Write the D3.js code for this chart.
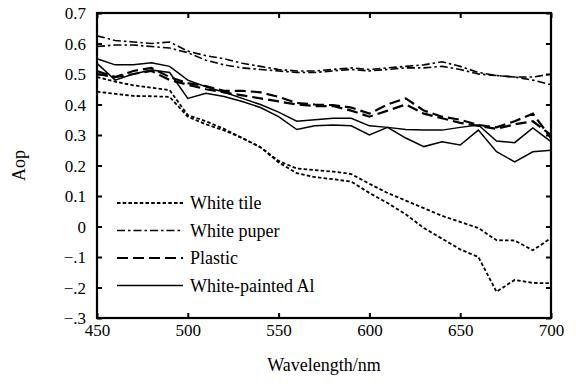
<!DOCTYPE html>
<html lang="en">
<head>
<meta charset="UTF-8">
<title>Aop vs wavelength</title>
<style>
  body { margin: 0; background: #fff; }
  svg text { font-family: "Liberation Serif", "Times New Roman", serif; fill: #000; }
</style>
</head>
<body>
<script src="https://d3js.org/d3.v7.min.js"></script>
<svg id="chart"></svg>
<script>
// wavelengths (nm)
var wavelengths = d3.range(450, 701, 10);

// two samples per material
var tileA  = [0.49, 0.475, 0.463, 0.455, 0.447, 0.365, 0.345, 0.32, 0.29, 0.26, 0.215, 0.19, 0.185, 0.18, 0.172, 0.14, 0.11, 0.085, 0.06, 0.035, 0.015, -0.005, -0.045, -0.046, -0.078, -0.038];
var tileB  = [0.442, 0.435, 0.428, 0.427, 0.425, 0.36, 0.335, 0.315, 0.29, 0.26, 0.21, 0.175, 0.162, 0.155, 0.147, 0.11, 0.077, 0.04, -0.005, -0.04, -0.075, -0.1, -0.214, -0.175, -0.185, -0.186];
var paperA = [0.625, 0.61, 0.605, 0.6, 0.605, 0.575, 0.56, 0.55, 0.535, 0.525, 0.515, 0.51, 0.51, 0.515, 0.52, 0.515, 0.52, 0.525, 0.53, 0.54, 0.525, 0.505, 0.495, 0.49, 0.49, 0.5];
var paperB = [0.59, 0.595, 0.595, 0.59, 0.585, 0.57, 0.545, 0.53, 0.52, 0.515, 0.51, 0.505, 0.505, 0.51, 0.515, 0.51, 0.515, 0.52, 0.52, 0.525, 0.515, 0.5, 0.495, 0.49, 0.48, 0.465];
var plasticA = [0.51, 0.49, 0.51, 0.52, 0.49, 0.47, 0.46, 0.445, 0.445, 0.44, 0.425, 0.405, 0.4, 0.398, 0.39, 0.37, 0.4, 0.42, 0.38, 0.36, 0.35, 0.333, 0.325, 0.345, 0.37, 0.29];
var plasticB = [0.5, 0.49, 0.5, 0.51, 0.48, 0.465, 0.45, 0.44, 0.43, 0.42, 0.41, 0.4, 0.395, 0.395, 0.38, 0.36, 0.38, 0.4, 0.37, 0.355, 0.34, 0.33, 0.32, 0.335, 0.345, 0.3];
var alA = [0.55, 0.53, 0.53, 0.537, 0.525, 0.48, 0.458, 0.44, 0.42, 0.4, 0.375, 0.345, 0.35, 0.355, 0.355, 0.33, 0.325, 0.318, 0.316, 0.316, 0.325, 0.333, 0.28, 0.275, 0.323, 0.278];
var alB = [0.535, 0.48, 0.5, 0.513, 0.505, 0.42, 0.437, 0.426, 0.41, 0.39, 0.36, 0.318, 0.33, 0.333, 0.33, 0.3, 0.325, 0.29, 0.262, 0.278, 0.267, 0.316, 0.245, 0.212, 0.245, 0.25];

var xTicks = [450, 500, 550, 600, 650, 700];
var yTicks = [-0.3, -0.2, -0.1, 0, 0.1, 0.2, 0.3, 0.4, 0.5, 0.6, 0.7];

var materials = ["White tile", "White puper", "Plastic", "White-painted Al"];
var dashes = ["3.5,2.2", "8,3,2.5,3", "11,5", null];
var widths = [1.8, 1.6, 2.2, 1.5];
var samples = [[tileA, tileB], [paperA, paperB], [plasticA, plasticB], [alA, alB]];

var margin = {top: 13, right: 27, bottom: 66, left: 97},
    outerWidth = 578, outerHeight = 384,
    width = outerWidth - margin.left - margin.right,
    height = outerHeight - margin.top - margin.bottom;

var svg = d3.select("#chart")
    .attr("width", outerWidth)
    .attr("height", outerHeight)
    .append("g")
        .attr("transform", `translate(${margin.left}, ${margin.top})`);

var x = d3.scaleLinear().domain([450, 700]).range([0, width]);
var y = d3.scaleLinear().domain([-0.3, 0.7]).range([height, 0]);

var fmt = function(d) {
    if (Math.abs(d) < 1e-9) return "0";
    var s = d3.format(".1f")(Math.abs(d));
    return d < 0 ? "\u2212" + s.slice(1) : s;
};

// axes with inward ticks on all four sides
var axBottom = svg.append("g").attr("transform", `translate(0, ${height})`)
    .call(d3.axisBottom(x).tickValues(xTicks).tickSize(-5).tickPadding(3));
var axTop = svg.append("g")
    .call(d3.axisTop(x).tickValues(xTicks).tickSize(-5).tickFormat(""));
var axLeft = svg.append("g")
    .call(d3.axisLeft(y).tickValues(yTicks).tickSize(-5).tickPadding(11).tickFormat(fmt));
var axRight = svg.append("g").attr("transform", `translate(${width}, 0)`)
    .call(d3.axisRight(y).tickValues(yTicks).tickSize(-5).tickFormat(""));

[axBottom, axTop, axLeft, axRight].forEach(function(g) {
    g.select(".domain").remove();
    g.selectAll(".tick line").attr("stroke", "#000").attr("stroke-width", 2);
    g.selectAll(".tick text").style("font-size", "17px").attr("font-family", null);
});
axBottom.selectAll(".tick text").attr("dy", "0.9em");
axLeft.selectAll(".tick text").attr("dy", "0.35em");

// frame
svg.append("rect")
    .attr("width", width).attr("height", height)
    .attr("fill", "none").attr("stroke", "#000").attr("stroke-width", 2.2);

var line = d3.line()
    .x(function(d, i) { return x(wavelengths[i]); })
    .y(function(d) { return y(d); });

samples.forEach(function(pair, k) {
    pair.forEach(function(vals) {
        svg.append("path")
            .datum(vals)
            .attr("d", line)
            .attr("fill", "none")
            .attr("stroke", "#000")
            .attr("stroke-width", widths[k])
            .attr("stroke-dasharray", dashes[k]);
    });
});

// legend
var legend = svg.append("g").attr("transform", "translate(20, 190)");
materials.forEach(function(name, k) {
    var ly = k * 27.5;
    legend.append("line")
        .attr("x1", 0).attr("x2", 66).attr("y1", ly).attr("y2", ly)
        .attr("stroke", "#000")
        .attr("stroke-width", widths[k])
        .attr("stroke-dasharray", dashes[k]);
    legend.append("text")
        .attr("x", 73).attr("y", ly).attr("dy", "0.35em")
        .style("font-size", "18px")
        .text(name);
});

// axis titles
svg.append("text")
    .attr("x", width / 2).attr("y", height + 53)
    .attr("text-anchor", "middle")
    .style("font-size", "18px")
    .text("Wavelength/nm");
svg.append("text")
    .attr("transform", `translate(${-72}, ${height / 2}) rotate(-90)`)
    .attr("text-anchor", "middle")
    .style("font-size", "18px")
    .text("Aop");
</script>
</body>
</html>
